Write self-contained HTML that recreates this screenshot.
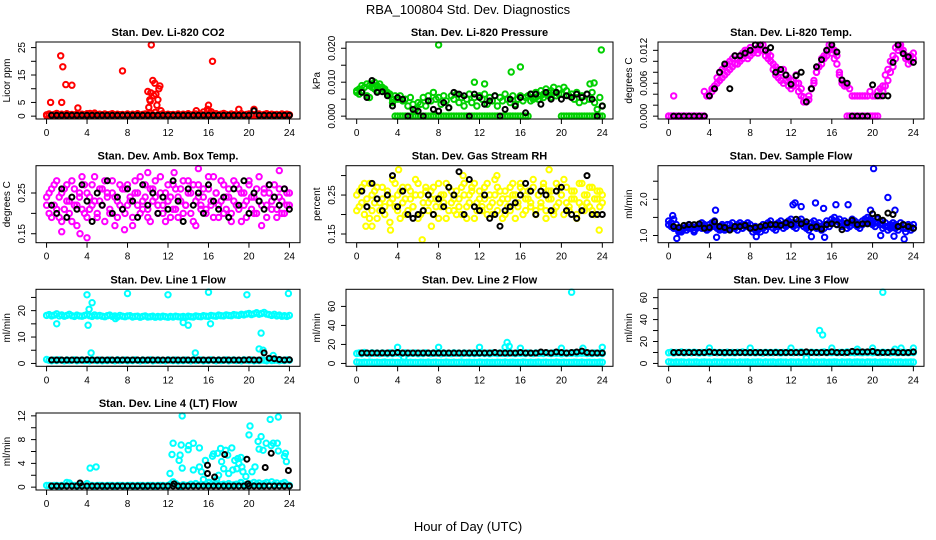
<!DOCTYPE html>
<html><head><meta charset="utf-8"><title>RBA_100804 Std. Dev. Diagnostics</title>
<style>
html,body{margin:0;padding:0;background:#fff;}
svg{display:block;font-family:"Liberation Sans",sans-serif;}
</style></head>
<body>
<svg id="chart" width="936" height="540" viewBox="0 0 936 540">
<text x="468" y="14" text-anchor="middle" font-size="13">RBA_100804  Std. Dev. Diagnostics</text>
<text x="468" y="531" text-anchor="middle" font-size="13">Hour of Day (UTC)</text>
</svg>
<script>
// ---- shared x values ----
const hours = [0,0.25,0.5,0.75,1,1.25,1.5,1.75,2,2.25,2.5,2.75,3,3.25,3.5,3.75,4,4.25,4.5,4.75,5,5.25,5.5,5.75,6,6.25,6.5,6.75,7,7.25,7.5,7.75,8,8.25,8.5,8.75,9,9.25,9.5,9.75,10,10.25,10.5,10.75,11,11.25,11.5,11.75,12,12.25,12.5,12.75,13,13.25,13.5,13.75,14,14.25,14.5,14.75,15,15.25,15.5,15.75,16,16.25,16.5,16.75,17,17.25,17.5,17.75,18,18.25,18.5,18.75,19,19.25,19.5,19.75,20,20.25,20.5,20.75,21,21.25,21.5,21.75,22,22.25,22.5,22.75,23,23.25,23.5,23.75,24];
const halfHours = [0.5,1,1.5,2,2.5,3,3.5,4,4.5,5,5.5,6,6.5,7,7.5,8,8.5,9,9.5,10,10.5,11,11.5,12,12.5,13,13.5,14,14.5,15,15.5,16,16.5,17,17.5,18,18.5,19,19.5,20,20.5,21,21.5,22,22.5,23,23.5,24];
const xTicks = [0,4,8,12,16,20,24];

// ---- P1 CO2 ----
const co2A = [0.5,0.8,0.3,0.6,1,0.4,0.7,0.3,0.9,0.5,0.6,0.4,0.8,0.3,0.7,0.5,0.9,0.4,0.6,1.1,0.3,0.7,0.5,0.8,0.4,0.6,0.9,0.3,0.7,0.5,0.6,0.4,0.8,0.3,0.7,0.5,0.9,0.4,0.6,0.8,0.3,1.2,0.5,1.4,0.4,0.6,0.9,0.3,0.7,0.5,0.6,0.4,0.8,0.3,0.7,0.5,0.9,0.4,0.6,0.8,0.3,0.7,1.5,0.8,1.9,1.6,0.6,0.9,0.3,0.7,0.5,0.6,0.4,0.8,0.3,0.7,0.5,0.9,0.4,0.6,0.8,0.3,2.2,0.5,0.8,0.4,0.6,0.9,0.3,0.7,0.5,0.6,0.4,0.8,0.3,0.7,0.5];
const co2B = [0.2,0.4,0.3,0.5,0.2,0.3,0.4,0.2,0.5,0.3,0.2,0.4,0.3,0.2,0.5,0.3,0.4,0.2,0.3,0.5,0.2,0.4,0.3,0.2,0.5,0.3,0.4,0.2,0.3,0.5,0.2,0.4,0.3,0.2,0.5,0.3,0.4,0.2,0.3,0.5,0.2,0.4,0.3,0.2,0.5,0.3,0.4,0.2,0.3,0.5,0.2,0.4,0.3,0.2,0.5,0.3,0.4,0.2,0.3,0.5,0.2,0.4,0.3,0.2,0.5,0.3,0.4,0.2,0.3,0.5,0.2,0.4,0.3,0.2,0.5,0.3,0.4,0.2,0.3,0.5,0.2,0.4,0.3,0.2,0.5,0.3,0.4,0.2,0.3,0.5,0.2,0.4,0.3,0.2,0.5,0.3,0.4];
const co2OutHours = [0.4,1.4,1.6,1.5,1.9,2.5,3.1,7.5,10,10.1,10.2,10.3,10.25,10.5,10.7,10.6,10.8,10.9,11,11.1,11.2,11.3,10.35,15.9,16,16.4,19,20.5,14.8,16.3,4.3,17.5];
const co2OutVals = [5,22,18,5,11.5,11.3,3,16.5,9,3.2,6,8.5,5.5,13,12,7.5,8,4,6,10,11,2,26,2.5,4,20,2.5,2.5,2,1.5,1,1];
const co2Black = [0.3,0.3,0.3,0.3,0.3,0.3,0.3,0.3,0.3,0.3,0.3,0.3,0.3,0.3,0.3,0.3,0.3,0.3,0.3,0.3,0.3,0.3,0.3,0.3,0.3,0.3,0.3,0.3,0.3,0.3,0.3,0.3,0.3,0.3,0.3,0.3,0.3,0.3,0.3,0.3,2,0.3,0.3,0.3,0.3,0.3,0.3,0.3];

// ---- P2 Pressure ----
const presA = [0.0075,0.008,0.009,0.0085,0.006,0.0055,0.0095,0.01,0.009,0.0095,0.0085,0.008,0.007,0.0065,0.005,0.006,0.005,0.006,0.0045,0.005,0.003,0.0055,0.0035,0.002,0.004,0.0035,0.0055,0.003,0.006,0.0045,0.007,0.005,0.0055,0.0035,0.006,0.0045,0.0025,0.006,0.005,0.0065,0.004,0.0055,0.003,0.005,0.0065,0.004,0.0055,0.003,0.006,0.005,0.0065,0.0035,0.0055,0.0045,0.006,0.003,0.0055,0.0045,0.0065,0.005,0.004,0.006,0.0035,0.005,0.006,0.0045,0.0055,0.006,0.0065,0.0055,0.007,0.006,0.0075,0.0065,0.008,0.007,0.0075,0.0085,0.007,0.008,0.0065,0.0085,0.0075,0.006,0.0065,0.005,0.007,0.004,0.006,0.0045,0.0065,0.005,0.007,0.004,0.002,0.0055,0.003];
const presB = [0.007,0.0065,0.0075,0.0085,0.0095,0.009,0.0085,0.008,0.0075,0.0085,0.008,0.0075,0.0065,0.006,0.004,0,0,0,0,0,0,0,0,0,0,0,0,0,0,0,0,0,0,0,0,0,0,0,0,0,0,0,0,0,0,0,0,0,0,0,0,0,0,0,0,0,0,0,0,0,0,0,0,0,0,0,0,0,0.0045,0.005,0.0055,0.005,0.006,0.0055,0.0065,0.006,0.0055,0.007,0.006,0.0065,0,0,0,0,0,0,0,0,0,0,0,0,0,0,0,0,0];
const presOutHours = [8,11.5,12.5,15.1,16,23.9,22.8,23.2];
const presOutVals = [0.021,0.01,0.0095,0.013,0.0145,0.0195,0.0095,0.0098];
const presBlack = [0.007,0.0055,0.0105,0.007,0.0072,0.006,0.003,0.0055,0.005,0,0.002,0.0015,0,0.0045,0.002,0.0015,0.004,0.0025,0.007,0.0065,0.006,0,0.0065,0.0055,0.0035,0.0045,0.006,0,0.002,0.005,0.003,0.0055,0.001,0.0065,0.0065,0.0035,0.007,0.005,0.007,0.005,0.006,0.0055,0.0065,0.0055,0.0065,0.005,0,0.003];

// ---- P3 Li-820 Temp ----
const tempA = [0,0,0.0037,0,0,0,0,0,0,0,0,0,0,0,0.0045,0.0037,0.0037,0.005,0.005,0.007,0.008,0.0085,0.009,0.0095,0.01,0.0105,0.011,0.0105,0.011,0.0115,0.012,0.012,0.0125,0.012,0.013,0.0125,0.013,0.013,0.012,0.0115,0.011,0.0095,0.009,0.0085,0.008,0.0085,0.0075,0.007,0.0065,0.0065,0.0075,0.006,0.005,0.0035,0.0026,0.003,0.005,0.006,0.008,0.009,0.0105,0.011,0.012,0.013,0.0125,0.012,0.011,0.008,0.0065,0.006,0.0055,0.005,0.0037,0.0037,0.0037,0.0037,0.0037,0.0037,0.0037,0.0045,0.0037,0.0037,0.0045,0.005,0.0055,0.0075,0.0085,0.01,0.011,0.0125,0.013,0.013,0.012,0.011,0.0105,0.011,0.0115];
const tempB = [0,0,0,0,0,0,0,0,0,0,0,0,0,0,0,0.0037,0.0037,0.0045,0.0055,0.006,0.0065,0.007,0.0075,0.008,0.0085,0.009,0.0095,0.0095,0.01,0.0105,0.011,0.0105,0.011,0.0115,0.012,0.0115,0.012,0.012,0.011,0.0105,0.01,0.0085,0.0075,0.007,0.0065,0.006,0.0065,0.0055,0.005,0.0055,0.006,0.0045,0.0037,0.0026,0.0026,0.0037,0.005,0.0065,0.008,0.009,0.0095,0.0105,0.011,0.012,0.0115,0.0105,0.0095,0.0075,0.006,0.0055,0,0,0,0,0,0,0,0,0,0,0,0,0,0.0037,0.0045,0.0055,0.0065,0.008,0.009,0.0105,0.012,0.0125,0.0115,0.0105,0.0095,0.01,0.0105];
const tempBlack = [0,0,0,0,0,0,0,0.0037,0.005,0.008,0.0095,0.005,0.011,0.011,0.0115,0.012,0.013,0.013,0.012,0.0125,0.008,0.0085,0.0075,0.0058,0.0074,0.008,0.0026,0.005,0.009,0.0103,0.012,0.013,0.0117,0.0066,0.006,0,0,0,0,0.0057,0.0037,0.0037,0.0037,0.0098,0.013,0.0114,0.0108,0.0098];

// ---- P4 Amb Box Temp ----
const boxA = [0.22,0.25,0.19,0.27,0.21,0.24,0.18,0.26,0.23,0.2,0.28,0.22,0.17,0.25,0.21,0.27,0.19,0.24,0.22,0.29,0.2,0.23,0.26,0.18,0.25,0.21,0.28,0.24,0.19,0.22,0.26,0.2,0.27,0.23,0.17,0.25,0.22,0.29,0.21,0.24,0.19,0.26,0.23,0.28,0.2,0.25,0.22,0.18,0.27,0.24,0.21,0.26,0.19,0.23,0.28,0.22,0.25,0.2,0.27,0.17,0.24,0.22,0.26,0.21,0.29,0.23,0.19,0.25,0.22,0.28,0.2,0.24,0.26,0.18,0.23,0.27,0.21,0.25,0.22,0.19,0.28,0.24,0.2,0.26,0.23,0.17,0.25,0.22,0.27,0.21,0.24,0.19,0.26,0.23,0.2,0.25,0.22];
const boxB = [0.24,0.2,0.26,0.22,0.28,0.19,0.25,0.21,0.27,0.23,0.18,0.26,0.22,0.24,0.29,0.2,0.25,0.21,0.27,0.23,0.19,0.26,0.22,0.28,0.24,0.2,0.25,0.17,0.23,0.27,0.21,0.26,0.22,0.24,0.19,0.28,0.25,0.2,0.23,0.27,0.21,0.18,0.26,0.24,0.22,0.29,0.2,0.25,0.23,0.19,0.27,0.21,0.24,0.26,0.2,0.22,0.28,0.25,0.18,0.23,0.27,0.21,0.24,0.2,0.26,0.22,0.29,0.25,0.19,0.23,0.27,0.21,0.24,0.2,0.28,0.22,0.26,0.18,0.25,0.23,0.27,0.21,0.24,0.2,0.29,0.22,0.26,0.19,0.25,0.23,0.27,0.21,0.24,0.2,0.26,0.22,0.25];
const boxOutHours = [4,1.5,23,15,10,3.3,7.7,12.6];
const boxOutVals = [0.14,0.155,0.305,0.31,0.3,0.15,0.16,0.3];
const boxBlack = [0.22,0.2,0.26,0.19,0.24,0.21,0.27,0.23,0.18,0.25,0.22,0.28,0.2,0.24,0.21,0.26,0.23,0.19,0.27,0.22,0.25,0.2,0.24,0.21,0.28,0.23,0.18,0.26,0.22,0.25,0.2,0.27,0.23,0.21,0.24,0.19,0.26,0.22,0.28,0.2,0.25,0.23,0.21,0.27,0.24,0.22,0.26,0.21];

// ---- P5 Gas Stream RH ----
const rhA = [0.25,0.22,0.27,0.2,0.24,0.28,0.21,0.26,0.19,0.23,0.27,0.22,0.25,0.18,0.24,0.28,0.21,0.26,0.23,0.2,0.27,0.24,0.22,0.29,0.19,0.25,0.21,0.27,0.23,0.26,0.2,0.24,0.28,0.22,0.25,0.19,0.27,0.23,0.21,0.26,0.24,0.2,0.28,0.22,0.25,0.27,0.19,0.23,0.26,0.21,0.24,0.28,0.22,0.2,0.25,0.27,0.23,0.19,0.26,0.24,0.21,0.28,0.25,0.22,0.27,0.2,0.24,0.26,0.23,0.29,0.21,0.25,0.22,0.27,0.19,0.24,0.26,0.21,0.28,0.23,0.25,0.2,0.27,0.22,0.24,0.26,0.19,0.23,0.28,0.21,0.25,0.22,0.27,0.2,0.24,0.26,0.23];
const rhB = [0.21,0.26,0.23,0.28,0.22,0.19,0.25,0.23,0.27,0.21,0.24,0.2,0.26,0.23,0.29,0.22,0.25,0.19,0.27,0.24,0.21,0.26,0.22,0.25,0.28,0.2,0.23,0.26,0.21,0.24,0.27,0.22,0.19,0.25,0.23,0.28,0.21,0.26,0.24,0.2,0.22,0.27,0.25,0.19,0.23,0.26,0.28,0.21,0.24,0.22,0.27,0.2,0.25,0.23,0.29,0.21,0.26,0.24,0.2,0.22,0.27,0.25,0.19,0.23,0.28,0.26,0.21,0.24,0.22,0.27,0.2,0.25,0.23,0.28,0.21,0.26,0.24,0.2,0.22,0.27,0.25,0.29,0.23,0.21,0.26,0.24,0.2,0.28,0.22,0.25,0.23,0.27,0.21,0.24,0.26,0.22,0.25];
const rhOutHours = [0.9,3.3,6.4,7.3,4.1,18.8,23.7,10.4,13.7,1.5];
const rhOutVals = [0.17,0.16,0.135,0.17,0.315,0.315,0.16,0.3,0.3,0.17];
const rhBlack = [0.26,0.22,0.28,0.24,0.21,0.25,0.3,0.22,0.26,0.2,0.19,0.2,0.21,0.25,0.2,0.24,0.22,0.27,0.25,0.31,0.2,0.29,0.22,0.21,0.25,0.19,0.2,0.17,0.21,0.22,0.23,0.25,0.28,0.26,0.2,0.26,0.25,0.21,0.26,0.27,0.21,0.2,0.19,0.21,0.3,0.2,0.2,0.2];

// ---- P6 Sample Flow ----
const flowA = [1.4,1.35,1.45,1.2,1.1,1.15,1.2,1.25,1.3,1.2,1.15,1.25,1.3,1.35,1.25,1.2,1.3,1.35,1.4,1.25,1.2,1.3,1.15,1.2,1.3,1.35,1.25,1.3,1.35,1.3,1.25,1.35,1.3,1.2,1.25,1.15,1.2,1.3,1.25,1.35,1.4,1.3,1.25,1.35,1.4,1.3,1.35,1.4,1.45,1.35,1.3,1.4,1.45,1.35,1.3,1.25,1.35,1.4,1.3,1.35,1.25,1.3,1.4,1.35,1.45,1.5,1.4,1.45,1.35,1.4,1.3,1.35,1.45,1.4,1.35,1.3,1.4,1.45,1.5,1.45,1.4,1.35,1.45,1.4,1.3,1.35,1.25,1.3,1.35,1.3,1.25,1.35,1.3,1.2,1.3,1.25,1.3];
const flowB = [1.3,1.25,1.2,1.3,1.15,1.1,1.2,1.15,1.2,1.25,1.1,1.2,1.25,1.2,1.3,1.15,1.2,1.25,1.3,1.2,1.15,1.25,1.2,1.3,1.2,1.25,1.2,1.15,1.25,1.2,1.3,1.25,1.2,1.1,1.15,1.2,1.1,1.2,1.15,1.25,1.3,1.2,1.15,1.25,1.3,1.2,1.25,1.3,1.35,1.25,1.2,1.3,1.35,1.25,1.2,1.15,1.25,1.3,1.2,1.25,1.15,1.2,1.3,1.25,1.35,1.4,1.3,1.35,1.25,1.3,1.2,1.25,1.35,1.3,1.25,1.2,1.3,1.35,1.4,1.35,1.3,1.25,1.35,1.3,1.2,1.25,1.15,1.2,1.25,1.2,1.15,1.25,1.2,1.1,1.2,1.15,1.2];
const flowOutHours = [4.6,4.7,0.8,8.6,12.2,12.4,13,14,14.4,15.2,15.3,16.4,17.6,20.1,21.5,20.8,22.1,23.1,22.2,19.8,0.4];
const flowOutVals = [1.7,0.95,0.92,0.97,1.85,1.9,1.8,0.97,1.9,1.75,0.95,1.85,1.85,2.85,2.05,1.0,0.98,0.9,1.7,1.7,1.55];
const flowBlack = [1.25,1.22,1.28,1.3,1.3,1.32,1.2,1.22,1.38,1.25,1.22,1.15,1.25,1.25,1.28,1.2,1.22,1.25,1.28,1.3,1.3,1.28,1.35,1.3,1.45,1.32,1.38,1.22,1.24,1.18,1.3,1.32,1.3,1.16,1.35,1.42,1.3,1.32,1.32,1.6,1.5,1.42,1.62,1.58,1.25,1.3,1.25,1.2];

// ---- P7 Line 1 Flow ----
const line1A = [18.2,18.5,18,18.3,18.8,18,18.4,17.9,18.2,18.6,18.1,17.8,18.3,18,17.9,18.2,18.5,18.1,17.8,18.4,18,18.2,17.9,17.7,18.1,18.3,17.8,18,17.6,18.2,17.9,17.7,18,18.1,17.6,17.8,17.9,17.5,17.8,18,17.6,17.7,17.9,17.5,17.8,17.6,17.9,17.7,17.5,17.8,17.6,17.9,17.7,17.6,17.8,17.5,17.9,17.7,17.6,18,17.8,17.7,18.1,17.9,17.8,18.2,18,17.9,18.3,18.1,18,18.4,18.2,18.1,18.5,18.3,18.2,18.6,18.4,18.7,18.9,18.5,18.8,19.2,18.6,18.9,19.3,18.7,18.5,18.2,18.6,18,18.3,17.9,18.1,17.8,18.2];
const line1Low = [1.5,1.2,1,1.3,1.1,1.4,1.2,1,1.3,1.1,1.2,1.4,1,1.2,1.3,1.1,1.2,1,1.4,1.2,1.1,1.3,1,1.2,1.1,1.3,1.2,1,1.4,1.1,1.2,1.3,1,1.2,1.1,1.4,1.2,1,1.3,1.1,1.2,1.4,1,1.2,1.3,1.1,1.2,1,1.4,1.2,1.1,1.3,1,1.2,1.1,1.3,1.2,1,1.4,1.1,1.2,1.3,1,1.2,1.1,1.4,1.2,1,1.3,1.1,1.2,1.4,1,1.2,1.3,1.1,1.2,1,1.4,1.2,1.1,1.3,1,1.2,1.1,1.3,1.2,1,1.4,1.1,1.2,1.3,1,1.2,1.1,1.4,1.2];
const line1OutHours = [4,4.1,4.2,4.5,4.4,1,8,12,14,13.5,14.7,16,16.2,19.8,21,21.2,23.9,21.4,22.4,6.8];
const line1OutVals = [26,14.5,20.5,23,4,15,26.5,26,14.5,15.5,4,27,15,26,5.5,11.5,26.5,5,3,17];
const line1Black = [1.3,1.3,1.3,1.3,1.3,1.3,1.3,1.4,1.3,1.3,1.3,1.3,1.3,1.3,1.3,1.3,1.3,1.3,1.3,1.3,1.3,1.3,1.3,1.3,1.3,1.3,1.3,1.3,1.3,1.3,1.3,1.3,1.3,1.3,1.3,1.3,1.3,1.3,1.3,1.4,1.3,1.3,4,2,1.8,1.5,1.3,1.4];

// ---- P8 Line 2 Flow ----
const line2A = [10.5,11,10.2,11.5,10.8,10.3,11.2,10.6,10.9,10.4,11.1,10.7,10.2,11.3,10.5,10.8,11,10.3,10.7,11.2,10.4,10.9,10.6,11.1,10.3,10.8,10.5,11.2,10.7,10.4,11,10.6,10.9,10.3,11.1,10.5,10.8,10.4,11.2,10.6,10.9,10.3,11,10.7,10.5,11.1,10.4,10.8,10.6,11.2,10.5,10.9,10.3,11,10.7,10.4,11.1,10.6,10.8,10.5,11.3,10.7,10.4,11,10.6,10.9,10.5,11.2,10.8,10.4,11.1,10.6,10.9,10.5,11.2,10.7,10.4,11,10.6,10.9,10.3,11.1,10.5,10.8,10.6,11.2,10.4,10.9,10.7,11,10.5,10.8,10.4,11.1,10.6,10.9,10.5];
const line2Low = [1.5,1.2,1,1.3,1.1,1.4,1.2,1,1.3,1.1,1.2,1.4,1,1.2,1.3,1.1,1.2,1,1.4,1.2,1.1,1.3,1,1.2,1.1,1.3,1.2,1,1.4,1.1,1.2,1.3,1,1.2,1.1,1.4,1.2,1,1.3,1.1,1.2,1.4,1,1.2,1.3,1.1,1.2,1,1.4,1.2,1.1,1.3,1,1.2,1.1,1.3,1.2,1,1.4,1.1,1.2,1.3,1,1.2,1.1,1.4,1.2,1,1.3,1.1,1.2,1.4,1,1.2,1.3,1.1,1.2,1,1.4,1.2,1.1,1.3,1,1.2,1.1,1.3,1.2,1,1.4,1.1,1.2,1.3,1,1.2,1.1,1.4,1.2];
const line2OutHours = [4,8,12,14.5,14.7,14.9,16,20,21,22.1,24,4.6];
const line2OutVals = [17,17,17,17,22,18,16,16,75,16,17,6];
const line2Black = [11,11,11,11,11,11,11,11.5,11,11,11,11,11,11,11,11,11,11,11,11,11,11,11,11,11,11,11.5,11,11,11,11,11.5,11,11,11,12,11.5,11,12,11.5,11,11.5,12,13,11.5,11,11,11];

// ---- P9 Line 3 Flow ----
const line3A = [9.8,10.3,9.5,10.1,9.9,10.4,9.6,10,10.2,9.7,10.3,9.9,9.5,10.1,9.8,10.4,9.6,10,10.2,9.7,10.1,9.9,9.5,10.3,9.8,10,9.6,10.2,9.9,10.4,9.7,10,9.8,10.3,9.6,10.1,9.9,9.5,10.2,9.8,10,9.7,10.3,9.9,9.6,10.1,9.8,10.4,10,9.7,10.2,9.9,10.5,9.8,10.1,9.6,10.3,9.9,10,9.7,10.2,10.4,9.8,10.1,9.9,10.3,9.7,10,10.2,9.8,10.5,9.9,10.1,9.7,10.3,10,9.8,10.2,9.9,10.4,9.7,10.1,10,9.8,10.3,9.9,10.1,9.7,10.2,10,9.8,10.3,9.9,10.1,9.7,10.2,10];
const line3Low = [1.5,1.2,1,1.3,1.1,1.4,1.2,1,1.3,1.1,1.2,1.4,1,1.2,1.3,1.1,1.2,1,1.4,1.2,1.1,1.3,1,1.2,1.1,1.3,1.2,1,1.4,1.1,1.2,1.3,1,1.2,1.1,1.4,1.2,1,1.3,1.1,1.2,1.4,1,1.2,1.3,1.1,1.2,1,1.4,1.2,1.1,1.3,1,1.2,1.1,1.3,1.2,1,1.4,1.1,1.2,1.3,1,1.2,1.1,1.4,1.2,1,1.3,1.1,1.2,1.4,1,1.2,1.3,1.1,1.2,1,1.4,1.2,1.1,1.3,1,1.2,1.1,1.3,1.2,1,1.4,1.1,1.2,1.3,1,1.2,1.1,1.4,1.2];
const line3OutHours = [4,8,12,14.8,15.1,16,20,21,24,13.5,18.5,22.2,22.8];
const line3OutVals = [14,14,14,30,26,14,14,65,14,5,13,13,14];
const line3Black = [10,10,10,10,10,10,10,10.5,10,10,10,10,10,10,10,10,10,10,10,10,10,10,10,10,10,10,10.5,10,10,10,10,10.5,10,10,10,11,10.5,10.5,10.5,11,10,10,10,10.5,10,10,10,10.5];

// ---- P10 Line 4 (LT) Flow ----
const line4A = [0.3,0.3,0.2,0.3,0.3,0.2,0.3,0.3,0.8,0.7,0.3,0.3,0.2,0.3,0.3,0.3,0.6,0.3,0.3,0.2,0.3,0.3,0.3,0.2,0.3,0.3,0.3,0.2,0.3,0.3,0.3,0.2,0.3,0.3,0.3,0.2,0.3,0.3,0.3,0.2,0.3,0.3,0.3,0.2,0.3,0.3,0.3,0.2,0.3,0.5,0.9,0.6,0.3,0.2,0.4,0.3,0.3,0.5,0.3,0.6,0.3,0.4,0.3,0.5,0.8,0.4,0.3,0.6,0.3,0.4,0.5,0.3,0.6,0.3,0.4,0.5,0.3,0.7,0.4,0.3,0.6,0.4,0.8,0.5,0.7,0.3,0.6,0.8,0.4,0.9,0.5,0.7,0.3,0.6,0.8,0.4,0.3];
const line4OutHours = [4.3,4.9,12.2,12.4,12.5,13.1,13.2,13.3,13.4,13.4,14,14.05,14.5,14.5,15.1,15.1,15.3,15.7,15.5,16.4,16.5,16.9,17,17.2,17.3,17.5,17.7,17.9,18,18.3,18.4,18.6,18.8,18.9,19,19.2,19.3,19.4,19.7,20,20.1,20.3,20.6,20.9,21,21.2,21.4,21.7,22.1,22.2,22.4,22.9,22.9,22.8,23.5,23.6,23.7,16.8,16.1,19.2];
const line4OutVals = [3.2,3.4,2.3,5.5,7.4,4.5,5.4,7.1,12,3.2,6.3,7,2.9,7.4,6.6,3.4,2.6,4.5,1.3,5.2,5.6,5.7,2,6.5,4.3,3.1,6.2,5.4,2.3,6.6,2.9,4.5,3.1,4.8,4,5,3.4,2.6,1.8,8.8,10.3,2.6,3.4,7.7,6.4,8.5,6.2,7.4,11.4,7,7.4,11.8,6.1,7.4,5.2,5.7,4.3,1.3,0.8,0.8];
const line4Black = [0.2,0.2,0.2,0.2,0.2,0.2,0.2,0.2,0.2,0.2,0.2,0.2,0.2,0.2,0.2,0.2,0.2,0.2,0.2,0.2,0.2,0.2,0.2,0.2,0.2,0.2,0.2,0.2,0.2,0.2,0.2,0.2,0.2,0.2,0.2,0.2,0.2,0.2,0.2,0.2,0.2,0.2,0.2,0.2,0.2,0.2,0.2,0.2];
const line4BlackOutHours = [3.3,12.6,15.9,15.9,16.6,17.6,19.8,19.9,21.6,22.2,23.9];
const line4BlackOutVals = [0.7,0.55,3.7,2.3,1.7,5.5,4.7,0.55,3.3,5.7,2.8];

// ---- panel definitions ----
const NS = 'http://www.w3.org/2000/svg';
const svg = document.getElementById('chart');
const colLeft = [36, 346, 658];
const colWidth = [264, 267, 266];
const rowTop = [42, 165.7, 289.3, 413];
const boxH = 77;

const panels = [
 {name:'co2', title:'Stan. Dev. Li-820 CO2', ylab:'Licor ppm', col:'#FF0000', r:0, c:0, ymin:0, ymax:26, ticks:[0,5,10,15,20,25], labels:[0,5,15,25], fmt:v=>String(v),
  series:[[hours,co2A],[hours,co2B],[co2OutHours,co2OutVals]], black:[[halfHours,co2Black]]},
 {name:'pressure', title:'Stan. Dev. Li-820 Pressure', ylab:'kPa', col:'#00D000', r:0, c:1, ymin:0, ymax:0.021, ticks:[0,0.005,0.01,0.015,0.02], labels:[0,0.01,0.02], fmt:v=>v.toFixed(3),
  series:[[hours,presA],[hours,presB],[presOutHours,presOutVals]], black:[[halfHours,presBlack]]},
 {name:'li820-temp', title:'Stan. Dev. Li-820 Temp.', ylab:'degrees C', col:'#FF00FF', r:0, c:2, ymin:0, ymax:0.013, ticks:[0,0.002,0.004,0.006,0.008,0.01,0.012], labels:[0,0.006,0.012], fmt:v=>v.toFixed(3),
  series:[[hours,tempA],[hours,tempB]], black:[[halfHours,tempBlack]]},
 {name:'amb-box-temp', title:'Stan. Dev. Amb. Box Temp.', ylab:'degrees C', col:'#FF00FF', r:1, c:0, ymin:0.135, ymax:0.31, ticks:[0.15,0.2,0.25], labels:[0.15,0.25], fmt:v=>v.toFixed(2),
  series:[[hours,boxA],[hours,boxB],[boxOutHours,boxOutVals]], black:[[halfHours,boxBlack]]},
 {name:'gas-stream-rh', title:'Stan. Dev. Gas Stream RH', ylab:'percent', col:'#FFFF00', r:1, c:1, ymin:0.135, ymax:0.318, ticks:[0.15,0.2,0.25,0.3], labels:[0.15,0.25], fmt:v=>v.toFixed(2),
  series:[[hours,rhA],[hours,rhB],[rhOutHours,rhOutVals]], black:[[halfHours,rhBlack]]},
 {name:'sample-flow', title:'Stan. Dev. Sample Flow', ylab:'ml/min', col:'#0000FF', r:1, c:2, ymin:0.88, ymax:2.85, ticks:[1,1.5,2,2.5], labels:[1,2], fmt:v=>v.toFixed(1),
  series:[[hours,flowA],[hours,flowB],[flowOutHours,flowOutVals]], black:[[halfHours,flowBlack]]},
 {name:'line1-flow', title:'Stan. Dev. Line 1 Flow', ylab:'ml/min', col:'#00FFFF', r:2, c:0, ymin:0, ymax:27, ticks:[0,5,10,15,20,25], labels:[0,10,20], fmt:v=>String(v),
  series:[[hours,line1A],[hours,line1Low],[line1OutHours,line1OutVals]], black:[[halfHours,line1Black]]},
 {name:'line2-flow', title:'Stan. Dev. Line 2 Flow', ylab:'ml/min', col:'#00FFFF', r:2, c:1, ymin:0, ymax:75, ticks:[0,20,40,60], labels:[0,20,40,60], fmt:v=>String(v),
  series:[[hours,line2A],[hours,line2Low],[line2OutHours,line2OutVals]], black:[[halfHours,line2Black]]},
 {name:'line3-flow', title:'Stan. Dev. Line 3 Flow', ylab:'ml/min', col:'#00FFFF', r:2, c:2, ymin:0, ymax:65, ticks:[0,10,20,30,40,50,60], labels:[0,20,40,60], fmt:v=>String(v),
  series:[[hours,line3A],[hours,line3Low],[line3OutHours,line3OutVals]], black:[[halfHours,line3Black]]},
 {name:'line4-flow', title:'Stan. Dev. Line 4 (LT) Flow', ylab:'ml/min', col:'#00FFFF', r:3, c:0, ymin:0, ymax:12, ticks:[0,2,4,6,8,10,12], labels:[0,4,8,12], fmt:v=>String(v),
  series:[[hours,line4A],[line4OutHours,line4OutVals]], black:[[halfHours,line4Black],[line4BlackOutHours,line4BlackOutVals]]}
];

function mk(tag, attrs, parent){
  const e = document.createElementNS(NS, tag);
  for (const k in attrs) e.setAttribute(k, attrs[k]);
  parent.appendChild(e);
  return e;
}

panels.forEach(p => {
  const L = colLeft[p.c], W = colWidth[p.c], T = rowTop[p.r], B = T + boxH;
  const g = mk('g', {}, svg);
  
  
  const xs = h => L + W * (0.04 + 0.92 * h / 24);
  const padY = (p.ymax - p.ymin) * 0.04;
  const y0 = p.ymin - padY, y1 = p.ymax + padY;
  const ys = v => B - (v - y0) / (y1 - y0) * boxH;

  const t = mk('text', {x: L + W/2, y: T - 6, 'text-anchor':'middle', 'font-size':11, 'font-weight':'bold'}, g);
  t.textContent = p.title;
  
  

  const pg = mk('g', {fill:'none', 'stroke-width':2}, g);
  
  
  p.series.forEach(([hx, vy]) => {
    const n = Math.min(hx.length, vy.length);
    for (let i = 0; i < n; i++) {
      const c = mk('circle', {cx: xs(hx[i]).toFixed(1), cy: ys(vy[i]).toFixed(1), r: 2.7, stroke: p.col}, pg);
      
      
    }
  });
  p.black.forEach(([hx, vy]) => {
    const n = Math.min(hx.length, vy.length);
    for (let i = 0; i < n; i++) {
      const c = mk('circle', {cx: xs(hx[i]).toFixed(1), cy: ys(vy[i]).toFixed(1), r: 2.5, stroke: '#000'}, pg);
      
      
    }
  });

  const box = mk('rect', {x: L, y: T, width: W, height: boxH, fill:'none', stroke:'#000', 'stroke-width':1}, g);
  
  

  const xa = mk('g', {}, g);
  
  
  mk('line', {x1: xs(0), x2: xs(24), y1: B, y2: B, stroke:'#000'}, xa);
  xTicks.forEach(h => {
    mk('line', {x1: xs(h), x2: xs(h), y1: B, y2: B + 5, stroke:'#000'}, xa);
    const tl = mk('text', {x: xs(h), y: B + 17, 'text-anchor':'middle', 'font-size':10}, xa);
    tl.textContent = String(h);
    
    
  });

  const ya = mk('g', {}, g);
  
  
  mk('line', {x1: L, x2: L, y1: ys(p.ticks[0]), y2: ys(p.ticks[p.ticks.length-1]), stroke:'#000'}, ya);
  p.ticks.forEach(v => {
    mk('line', {x1: L - 5, x2: L, y1: ys(v), y2: ys(v), stroke:'#000'}, ya);
  });
  p.labels.forEach(v => {
    const yy = ys(v), xx = L - 11;
    const tl = mk('text', {x: xx, y: yy, 'text-anchor':'middle', 'font-size':10, transform:`rotate(-90 ${xx} ${yy})`}, ya);
    tl.textContent = p.fmt(v);
    
    
  });
  const yl = mk('text', {x: L - 26, y: T + boxH/2, 'text-anchor':'middle', 'font-size':10, transform:`rotate(-90 ${L-26} ${T+boxH/2})`}, g);
  yl.textContent = p.ylab;
  
  
});
</script>
</body></html>
